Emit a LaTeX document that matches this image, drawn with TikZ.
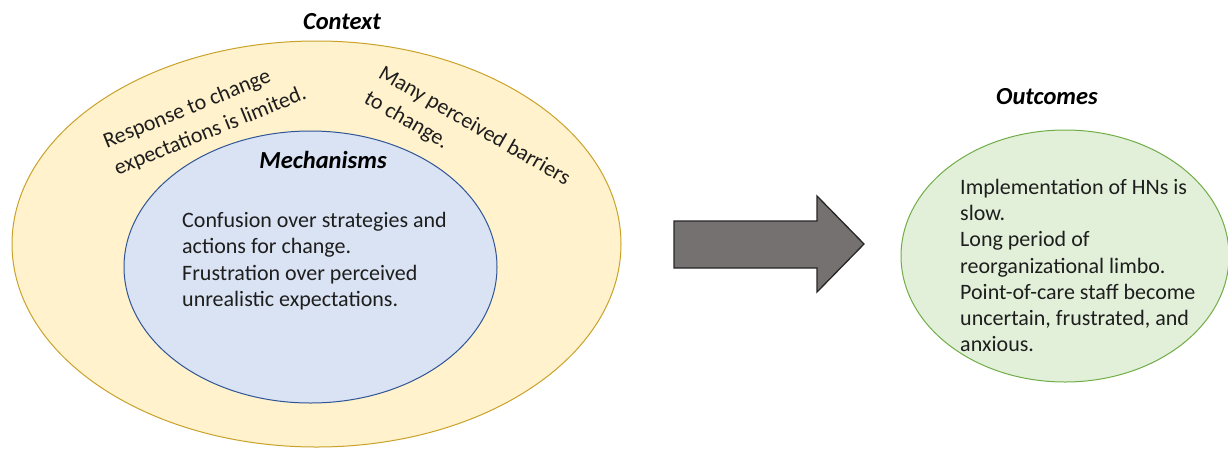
\documentclass[tikz,border=0pt]{standalone}
\usepackage{fontspec}
\setmainfont{Carlito}
\definecolor{ctxfill}{HTML}{FFF2CC}
\definecolor{ctxline}{HTML}{C9A22A}
\definecolor{mechfill}{HTML}{DAE3F3}
\definecolor{mechline}{HTML}{2F5597}
\definecolor{outfill}{HTML}{E2F0D9}
\definecolor{outline}{HTML}{70AD47}
\definecolor{arrfill}{HTML}{767171}
\definecolor{txt}{HTML}{1E1E1E}
\begin{document}
\begin{tikzpicture}[x=1pt,y=-1pt,
  body/.style={font=\fontsize{22}{26.3}\selectfont, text=txt, align=left, inner sep=0pt},
  rotbody/.style={font=\fontsize{22}{29}\selectfont, text=txt, align=left, inner sep=0pt},
  title/.style={font=\fontsize{24.5}{28}\selectfont\bfseries\itshape, text=black, inner sep=0pt}
]
\useasboundingbox (0,0) rectangle (1228,448);
\begin{scope}
\clip (0,0) rectangle (1228,448);
% outer context ellipse
\draw[fill=ctxfill, draw=ctxline, line width=1pt] (316.5,244) ellipse [x radius=304.5, y radius=203];
% inner mechanisms ellipse
\draw[fill=mechfill, draw=mechline, line width=1pt] (310.5,267) ellipse [x radius=186.5, y radius=136];
% outcomes ellipse
\draw[fill=outfill, draw=outline, line width=1pt] (1065,256) ellipse [x radius=164, y radius=126];
\end{scope}

\node[title] (context) at (342,22) {Context};
\node[title] (mech) at (323,160) {Mechanisms};
\node[title] (outc) at (1047,97) {Outcomes};

\node[rotbody, rotate=22] (resp) at (205,118) {Response to change\\expectations is limited.};
\node[rotbody, rotate=-30] (barr) at (467,139) {Many perceived barriers\\to change.};

\node[body, anchor=west] (mtext) at (182,261) {Confusion over strategies and\\actions for change.\\Frustration over perceived\\unrealistic expectations.};

\node[body, anchor=west] (otext) at (960,265.5) {Implementation of HNs is\\slow.\\Long period of\\reorganizational limbo.\\Point-of-care staff become\\uncertain, frustrated, and\\anxious.};

% block arrow
\draw[fill=arrfill, draw=black!85, line width=1.3pt, line join=miter]
  (674,221) -- (817,221) -- (817,196) -- (864,244) -- (817,292) -- (817,268) -- (674,268) -- cycle;
\end{tikzpicture}
\end{document}
